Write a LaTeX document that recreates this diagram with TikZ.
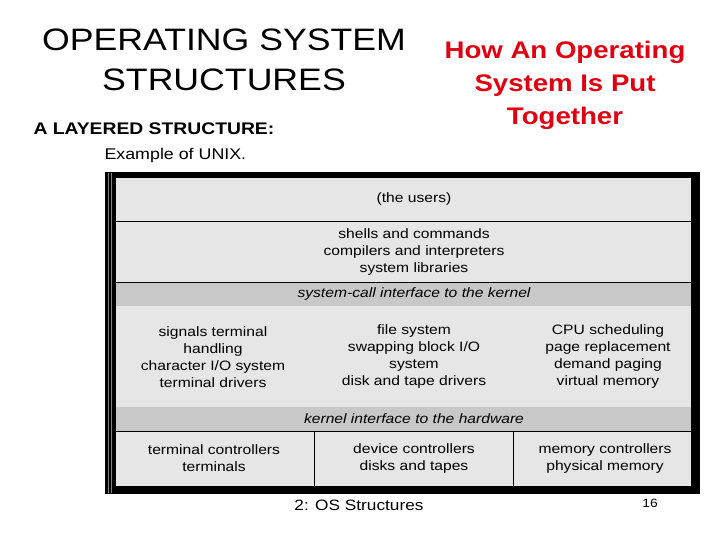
\documentclass[tikz,border=0pt]{standalone}
\usepackage{fontspec}
\setmainfont[FakeStretch=1.15]{Liberation Sans}
\usetikzlibrary{positioning}
\definecolor{layerfill}{HTML}{E6E6E6}
\definecolor{bandfill}{HTML}{C8C8C8}
\definecolor{titlered}{HTML}{E00010}

\begin{document}
\begin{tikzpicture}[
    x=1pt, y=-1pt,
    layer/.style={draw=black, line width=1pt, fill=layerfill},
    band/.style={fill=bandfill},
    layertext/.style={font=\fontsize{13.6}{17}\selectfont, align=center, text=black},
    bandtext/.style={font=\fontsize{13.6}{17}\selectfont\itshape, text=black}
]
\useasboundingbox (0,0) rectangle (720,540);

% Titles
\node[font=\fontsize{31}{40}\selectfont, align=center] (title) at (224,60) {OPERATING SYSTEM\\STRUCTURES};
\node[font=\fontsize{24}{33}\selectfont\bfseries, text=titlered, align=center] (subtitle) at (565,85) {How An Operating\\System Is Put\\Together};
\node[font=\fontsize{16.8}{18}\selectfont\bfseries, anchor=west] (layered) at (30,129) {A LAYERED STRUCTURE:};
\node[font=\fontsize{15.5}{18}\selectfont, anchor=west] (example) at (101,155) {Example of UNIX.};

% Frame
\fill[black] (105,172) rectangle (700,494);
\draw[gray, line width=1pt] (108.5,173) -- (108.5,493);
\draw[gray, line width=1pt] (111.5,173) -- (111.5,493);

% Layers
\draw[layer] (115,178) rectangle (691,221.5);
\draw[layer] (115,221.5) rectangle (691,282);
\draw[layer] (115,282) rectangle (691,431);
\fill[band] (115.5,282.5) rectangle (690.5,306);
\fill[band] (115.5,407) rectangle (690.5,430.5);
\draw[layer] (115,431) rectangle (314,486);
\draw[layer] (314,431) rectangle (513,486);
\draw[layer] (513,431) rectangle (691,486);

% Layer texts
\node[layertext] (users) at (414,199) {(the users)};
\node[layertext] (shells) at (414,252) {shells and commands\\compilers and interpreters\\system libraries};
\node[bandtext] (syscall) at (414,294) {system-call interface to the kernel};
\node[layertext] (signals) at (213,357) {signals terminal\\handling\\character I/O system\\terminal drivers};
\node[layertext] (filesys) at (414,356) {file system\\swapping block I/O\\system\\disk and tape drivers};
\node[layertext] (cpu) at (608,356) {CPU scheduling\\page replacement\\demand paging\\virtual memory};
\node[bandtext] (kernelhw) at (414,419) {kernel interface to the hardware};
\node[layertext] (termctl) at (214,458) {terminal controllers\\terminals};
\node[layertext] (devctl) at (414,458) {device controllers\\disks and tapes};
\node[layertext] (memctl) at (605,458) {memory controllers\\physical memory};

% Footer
\node[font=\fontsize{15}{18}\selectfont] (footer) at (359,505) {2: OS Structures};
\node[font=\fontsize{12}{14}\selectfont] (page) at (650,503) {16};
\end{tikzpicture}
\end{document}
